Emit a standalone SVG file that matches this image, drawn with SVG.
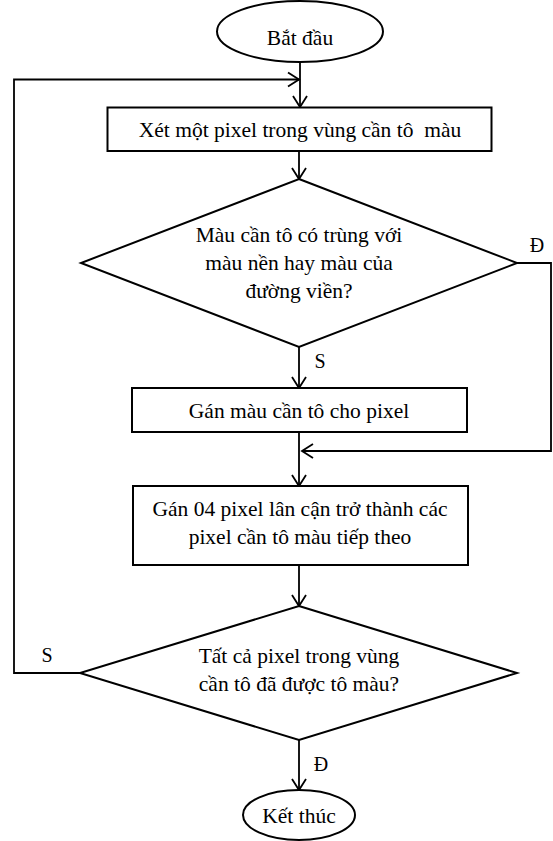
<svg xmlns="http://www.w3.org/2000/svg" width="553" height="841" viewBox="0 0 553 841">
  <style>
    .shape { fill: #fff; stroke: #000; stroke-width: 2; }
    .line { fill: none; stroke: #000; stroke-width: 1.8; }
    text { font-family: "Liberation Serif", "Times New Roman", serif; font-size: 21.5px; fill: #000; text-anchor: middle; }
    .lbl { font-size: 20px; }
  </style>
  <defs>
    <marker id="arrow" markerUnits="userSpaceOnUse" markerWidth="14" markerHeight="16" refX="12" refY="7" orient="auto" overflow="visible">
      <path d="M1,0 L12,7 L1,14" fill="none" stroke="#000" stroke-width="1.8"/>
    </marker>
  </defs>

  <!-- connectors -->
  <g id="connectors">
    <line class="line" x1="300" y1="62" x2="300" y2="107" marker-end="url(#arrow)"/>
    <polyline class="line" points="80,673 14,673 14,79.5 299,79.5" marker-end="url(#arrow)"/>
    <line class="line" x1="299" y1="151" x2="299" y2="179" marker-end="url(#arrow)"/>
    <line class="line" x1="299" y1="347" x2="299" y2="388" marker-end="url(#arrow)"/>
    <polyline class="line" points="517,263 551,263 551,451 302,451" marker-end="url(#arrow)"/>
    <line class="line" x1="299" y1="432" x2="299" y2="486" marker-end="url(#arrow)"/>
    <line class="line" x1="299" y1="565" x2="299" y2="606" marker-end="url(#arrow)"/>
    <line class="line" x1="299" y1="740" x2="299" y2="790" marker-end="url(#arrow)"/>
    <text class="lbl" x="537" y="252">Đ</text>
    <text class="lbl" x="320" y="368">S</text>
    <text class="lbl" x="47" y="662">S</text>
    <text class="lbl" x="321" y="771">Đ</text>
  </g>

  <g id="start">
    <ellipse class="shape" cx="300" cy="31.5" rx="83" ry="30.5"/>
    <text x="300" y="45">Bắt đầu</text>
  </g>

  <g id="pick-pixel">
    <rect class="shape" x="107.5" y="107.5" width="384" height="43.5"/>
    <text x="300" y="137" xml:space="preserve">Xét một pixel trong vùng cần tô  màu</text>
  </g>

  <g id="check-color">
    <polygon class="shape" points="299,179 517,263 299,347 81,263"/>
    <text x="299" y="242">Màu cần tô có trùng với</text>
    <text x="299" y="270">màu nền hay màu của</text>
    <text x="299" y="298">đường viền?</text>
  </g>

  <g id="fill-pixel">
    <rect class="shape" x="132" y="388" width="335" height="44"/>
    <text x="299" y="418">Gán màu cần tô cho pixel</text>
  </g>

  <g id="neighbors">
    <rect class="shape" x="133" y="486" width="335" height="79"/>
    <text x="300" y="516">Gán 04 pixel lân cận trở thành các</text>
    <text x="300" y="544">pixel cần tô màu tiếp theo</text>
  </g>

  <g id="check-done">
    <polygon class="shape" points="299,606 517,673 299,740 80,673"/>
    <text x="299" y="663">Tất cả pixel trong vùng</text>
    <text x="299" y="691">cần tô đã được tô màu?</text>
  </g>

  <g id="end">
    <ellipse class="shape" cx="299" cy="815" rx="56" ry="25"/>
    <text x="299" y="823">Kết thúc</text>
  </g>
</svg>
